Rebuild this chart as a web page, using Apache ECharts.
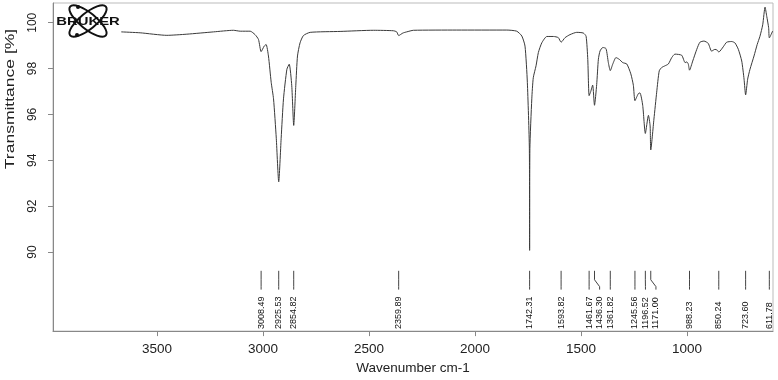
<!DOCTYPE html>
<html>
<head>
<meta charset="utf-8">
<script src="https://cdn.jsdelivr.net/npm/echarts@6/dist/echarts.min.js"></script>
<style>
html, body { margin: 0; padding: 0; background: #fff; }
#chart { width: 778px; height: 380px; }
</style>
</head>
<body>
<div id="chart"></div>
<script>
// spectrum (cm-1, %T)
var wavenumbers = [3668, 3579, 3453, 3359, 3233, 3139, 3107, 3060, 3037, 3021, 3008.49, 2994, 2985, 2974, 2961,
    2950, 2937, 2925.53, 2914, 2903, 2887, 2876, 2864, 2854.82, 2845, 2837, 2825, 2809, 2777, 2636, 2479, 2385,
    2369, 2359.89, 2340, 2322, 2290, 2086, 1850, 1803, 1779, 1764, 1753, 1743.5, 1742.31, 1741, 1732, 1725, 1712,
    1701, 1685, 1661, 1630, 1607, 1593.82, 1575, 1552, 1520, 1489, 1476, 1468, 1461.67, 1454, 1445, 1436.30, 1426,
    1418, 1410, 1397, 1382, 1371, 1361.82, 1350, 1335, 1319, 1303, 1284, 1265, 1253, 1245.56, 1230, 1222, 1209,
    1196.52, 1182, 1174, 1171.00, 1156, 1143, 1131, 1119, 1104, 1088, 1072, 1057, 1025, 1009, 1001, 994, 988.23,
    973, 954, 939, 920, 900, 884, 868, 857, 850.24, 829, 813, 789, 774, 758, 742, 731, 723.60, 714, 703, 684, 669,
    656, 643, 632, 624, 615, 611.78, 596];
var transmittance = [99.60, 99.56, 99.45, 99.50, 99.60, 99.67, 99.63, 99.63, 99.48, 99.27, 98.74, 98.98, 99.05, 98.55, 97.40,
    96.68, 94.96, 93.06, 94.96, 96.68, 97.97, 98.19, 97.25, 95.52, 97.25, 98.55, 99.12, 99.44, 99.58, 99.62, 99.67, 99.65,
    99.60, 99.44, 99.55, 99.60, 99.67, 99.68, 99.68, 99.63, 99.42, 98.98, 97.40, 94.50, 90.07, 94.50, 96.68, 97.60, 98.12,
    98.70, 99.12, 99.40, 99.40, 99.35, 99.15, 99.35, 99.48, 99.58, 99.55, 99.41, 98.40, 96.82, 97.00, 97.28, 96.40, 97.30,
    98.41, 98.77, 98.92, 98.87, 98.26, 97.91, 98.20, 98.48, 98.40, 98.26, 98.20, 97.77, 97.27, 96.60, 96.90, 96.94, 96.40,
    95.17, 95.96, 95.50, 94.45, 95.80, 96.97, 97.90, 98.05, 98.12, 98.20, 98.48, 98.63, 98.58, 98.26, 98.29, 98.20, 97.93,
    98.33, 98.84, 99.15, 99.20, 99.10, 98.76, 98.84, 98.80, 98.72, 98.95, 99.15, 99.18, 99.12, 98.84, 98.33, 97.54, 96.85, 97.54, 97.97, 98.55, 99.05,
    99.41, 99.91, 100.68, 100.28, 99.78, 99.34, 99.64];

var peakPositions = [3008.49, 2925.53, 2854.82, 2359.89, 1742.31, 1593.82, 1461.67, 1436.30, 1361.82,
    1245.56, 1196.52, 1171.00, 988.23, 850.24, 723.60, 611.78];
var peakLabels = ['3008.49', '2925.53', '2854.82', '2359.89', '1742.31', '1593.82', '1461.67', '1436.30', '1361.82',
    '1245.56', '1196.52', '1171.00', '988.23', '850.24', '723.60', '611.78'];

var xTicks = [1000, 1500, 2000, 2500, 3000, 3500];
var yTicks = [90, 92, 94, 96, 98, 100];

var FONT = '"Liberation Sans", Arial, sans-serif';

var chart = echarts.init(document.getElementById('chart'));

var spectrum = wavenumbers.map(function (w, i) { return [w, transmittance[i]]; });

// peak marker levels (in %T) under the trace
var markTop = 89.18, markKnee1 = 88.79, markKnee2 = 88.49, markBottom = 88.36, labelBase = 86.64;

function renderPeak(params, api) {
    // spread labels so neighbours keep at least 10.5 px apart
    var lx = [];
    for (var i = 0; i < peakPositions.length; i++) {
        var px = api.coord([peakPositions[i], markTop])[0];
        lx.push(i > 0 ? Math.max(px, lx[i - 1] + 10.5) : px);
    }
    var idx = params.dataIndex;
    var top = api.coord([api.value(0), markTop]);
    var k1 = api.coord([api.value(0), markKnee1]);
    var k2 = api.coord([api.value(0), markKnee2]);
    var bot = api.coord([api.value(0), markBottom]);
    var base = api.coord([api.value(0), labelBase]);
    var x0 = top[0], x1 = lx[idx];
    return {
        type: 'group',
        children: [{
            type: 'polyline',
            shape: { points: [[x0, top[1]], [x0, k1[1]], [x1, k2[1]], [x1, bot[1]]] },
            style: { stroke: '#444', lineWidth: 1, fill: null }
        }, {
            type: 'text',
            x: x1, y: base[1],
            rotation: Math.PI / 2,
            style: {
                text: peakLabels[idx], fill: '#111', font: '9px ' + FONT,
                align: 'left', verticalAlign: 'middle'
            }
        }]
    };
}

chart.setOption({
    animation: false,
    backgroundColor: '#fff',
    grid: { left: 53, right: 5, top: 3, bottom: 45, show: true, borderColor: '#bbb', borderWidth: 1 },
    xAxis: {
        type: 'value', inverse: true, min: 594.5, max: 3990,
        name: 'Wavenumber cm-1', nameLocation: 'middle', nameGap: 29,
        nameTextStyle: { fontSize: 13.5, color: '#222', fontFamily: FONT },
        axisLine: { lineStyle: { color: '#888' } },
        axisTick: { customValues: xTicks, length: 5, lineStyle: { color: '#888' } },
        axisLabel: {
            customValues: xTicks, margin: 11, fontSize: 13.5, color: '#222', fontFamily: FONT,
            formatter: function (v) { return String(v); }
        },
        splitLine: { show: false }
    },
    yAxis: {
        type: 'value', min: 86.55, max: 100.86,
        axisLine: { show: true, lineStyle: { color: '#888' } },
        axisTick: { show: true, customValues: yTicks, length: 5, lineStyle: { color: '#888' } },
        axisLabel: { customValues: yTicks, rotate: 90, margin: 14, fontSize: 12, color: '#222', fontFamily: FONT },
        splitLine: { show: false }
    },
    graphic: [{
        type: 'text', x: 11, y: 99, rotation: Math.PI / 2, scaleX: 1.4,
        style: { text: 'Transmittance [%]', font: '12.5px ' + FONT, fill: '#222', align: 'center', verticalAlign: 'middle' }
    }, {
        type: 'group', x: 88, y: 21,
        children: [
            { type: 'ellipse', rotation: 0.68, shape: { cx: 0, cy: 0, rx: 23, ry: 8 }, style: { stroke: '#111', lineWidth: 2, fill: null } },
            { type: 'ellipse', rotation: -0.68, shape: { cx: 0, cy: 0, rx: 23, ry: 8 }, style: { stroke: '#111', lineWidth: 2, fill: null } },
            { type: 'circle', shape: { cx: -10, cy: -14, r: 2 }, style: { fill: '#111' } },
            { type: 'circle', shape: { cx: -11, cy: 14, r: 2 }, style: { fill: '#111' } },
            { type: 'text', x: 0, y: 1, scaleX: 1.35,
              style: { text: 'BRUKER', font: 'bold 11px ' + FONT, fill: '#111', align: 'center', verticalAlign: 'middle' } }
        ]
    }],
    series: [{
        type: 'line',
        data: spectrum,
        showSymbol: false,
        smooth: 0.2,
        lineStyle: { color: '#3a3a3a', width: 1 },
        z: 3
    }, {
        type: 'custom',
        data: peakPositions.map(function (p) { return [p, markTop]; }),
        renderItem: renderPeak,
        z: 2
    }]
});
</script>
</body>
</html>
